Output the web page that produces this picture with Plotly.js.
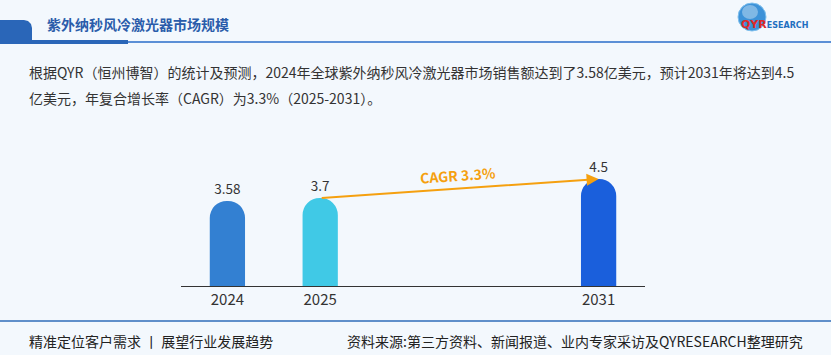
<!DOCTYPE html>
<html>
<head>
<meta charset="utf-8">
<script src="https://cdn.plot.ly/plotly-3.0.1.min.js"></script>
<style>html,body{margin:0;padding:0;background:#f3f8fd;}#chart{width:831px;height:355px;}</style>
</head>
<body>
<div id="chart"></div>
<script>
// ---- data ----
const years = ["2024", "2025", "2031"];
const values = [3.58, 3.7, 4.5];
const barColors = ["#3380d2", "#40c9e6", "#1a5fdc"];
const categoryOrder = ["2024", "2025", " ", "  ", "2031"];
const cagrLabel = "CAGR 3.3%";
const titleText = "紫外纳秒风冷激光器市场规模";
const descLine1 = "根据QYR（恒州博智）的统计及预测，2024年全球紫外纳秒风冷激光器市场销售额达到了3.58亿美元，预计2031年将达到4.5";
const descLine2 = "亿美元，年复合增长率（CAGR）为3.3%（2025-2031）。";
const footerLeft = "精准定位客户需求 丨 展望行业发展趋势";
const footerRight = "资料来源:第三方资料、新闻报道、业内专家采访及QYRESEARCH整理研究";

const W = 831, H = 355;
const px = x => x / W;
const py = y => 1 - y / H;
const P = pts => pts.map((p, i) => (i ? "L" : "M") + px(p[0]).toFixed(5) + "," + py(p[1]).toFixed(5)).join(" ") + " Z";

const FONT = "Noto Sans CJK SC, Noto Sans, sans-serif";

const trace = {
  type: "bar",
  x: years,
  y: values,
  marker: {color: barColors},
  text: values.map(String),
  textposition: "outside",
  textfont: {size: 13.5, color: "#333333", family: FONT},
  cliponaxis: false,
  hoverinfo: "skip"
};

const shapes = [
  // header block
  {type: "path", xref: "paper", yref: "paper", line: {width: 0}, fillcolor: "#2a66b8",
   path: P([[0,20],[24,20],[28,21],[31,24],[32,28],[32,40],[0,40]])},
  // header thick underline
  {type: "rect", xref: "paper", yref: "paper", x0: 0, x1: px(128), y0: py(44), y1: py(40), line: {width: 0}, fillcolor: "#2a66b8"},
  // header thin line
  {type: "line", xref: "paper", yref: "paper", x0: px(128), x1: 1, y0: py(42), y1: py(42), line: {color: "#5b8fd6", width: 2}},
  // footer line
  {type: "line", xref: "paper", yref: "paper", x0: 0, x1: 1, y0: py(321), y1: py(321), line: {color: "#2f6cb8", width: 1.5}},
  // logo globe
  {type: "circle", xref: "paper", yref: "paper", x0: px(738), x1: px(766), y0: py(31), y1: py(3), line: {color: "#7fc0ee", width: 1}, fillcolor: "#3d92d8"},
  {type: "circle", xref: "paper", yref: "paper", x0: px(742), x1: px(758), y0: py(19), y1: py(5), line: {width: 0}, fillcolor: "rgba(255,255,255,0.35)"}
];

const iFrom = categoryOrder.indexOf(years[1]);
const iTo = categoryOrder.indexOf(years[2]);

const annotations = [
  {xref: "paper", yref: "paper", x: px(45), y: py(24), xanchor: "left", yanchor: "middle", showarrow: false,
   text: "<b>" + titleText + "</b>", font: {size: 14, color: "#2a5caa", family: FONT}},
  {xref: "paper", yref: "paper", x: px(739), y: py(24), xanchor: "left", yanchor: "middle", showarrow: false,
   text: "<b><span style='color:#e02828'>QYR</span><span style='color:#1f6fc0;font-size:8px'>ESEARCH</span></b>",
   font: {size: 11, family: "DejaVu Sans, sans-serif"}},
  {xref: "paper", yref: "paper", x: px(27), y: py(72), xanchor: "left", yanchor: "middle", showarrow: false,
   text: descLine1, font: {size: 14, color: "#333333", family: FONT}},
  {xref: "paper", yref: "paper", x: px(27), y: py(98), xanchor: "left", yanchor: "middle", showarrow: false,
   text: descLine2, font: {size: 14, color: "#333333", family: FONT}},
  {xref: "paper", yref: "paper", x: px(27), y: py(341), xanchor: "left", yanchor: "middle", showarrow: false,
   text: footerLeft, font: {size: 14, color: "#222222", family: FONT}},
  {xref: "paper", yref: "paper", x: px(345), y: py(341), xanchor: "left", yanchor: "middle", showarrow: false,
   text: footerRight, font: {size: 14, color: "#222222", family: FONT}},
  // CAGR arrow
  {xref: "x", yref: "y", x: iTo, y: values[2], axref: "x", ayref: "y", ax: iFrom, ay: values[1],
   showarrow: true, arrowhead: 2, arrowsize: 1.2, arrowwidth: 2, arrowcolor: "#f5a00f", text: "", standoff: 0},
  {xref: "paper", yref: "paper", x: px(458), y: py(175), xanchor: "center", yanchor: "middle", showarrow: false,
   textangle: -4, text: "<b>" + cagrLabel + "</b>", font: {size: 14, color: "#f5a00f", family: FONT}}
];

const layout = {
  width: W, height: H,
  margin: {l: 0, r: 0, t: 0, b: 0},
  paper_bgcolor: "#f3f8fd",
  plot_bgcolor: "rgba(0,0,0,0)",
  showlegend: false,
  bargap: 0.62,
  barcornerradius: "50%",
  xaxis: {
    domain: [181 / W, 645 / W],
    type: "category",
    categoryorder: "array",
    categoryarray: categoryOrder,
    range: [-0.5, 4.5],
    showgrid: false, zeroline: false,
    showline: true, linecolor: "#333333", linewidth: 1,
    ticks: "", tickfont: {size: 15, color: "#333333", family: FONT},
    fixedrange: true
  },
  yaxis: {
    domain: [1 - 286 / H, 1 - 155 / H],
    range: [0, 5.51],
    visible: false,
    fixedrange: true
  },
  shapes: shapes,
  annotations: annotations,
  font: {family: FONT}
};

Plotly.newPlot("chart", [trace], layout, {displayModeBar: false, staticPlot: true});
</script>
</body>
</html>
